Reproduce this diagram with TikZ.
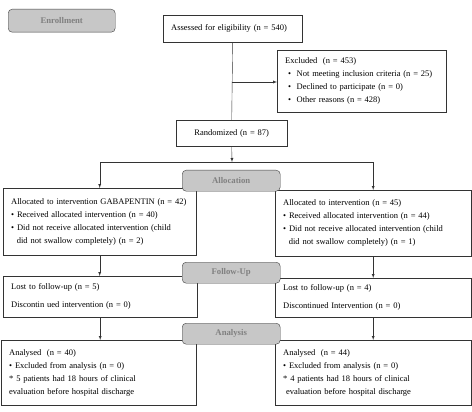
\documentclass[tikz,border=0pt]{standalone}
\usepackage{fontspec}
\setmainfont{Liberation Serif}
\usetikzlibrary{arrows}
\usetikzlibrary{positioning}

\begin{document}
\begin{tikzpicture}[x=1pt, y=-1pt,
box/.style={rectangle, draw=black!80, fill=white, thin, align=left, anchor=north west, inner xsep=8pt, inner ysep=2pt, font=\fontsize{8.5}{13}\selectfont},
stage/.style={rectangle, rounded corners=4pt, draw=black!75, fill=black!22, thin, anchor=north west, minimum width=98pt, minimum height=21pt, text=black!50, font=\fontsize{8.7}{10}\selectfont\bfseries},
]
\useasboundingbox (0,0) rectangle (472,412);
% boxes
\node[box, text width=123pt, minimum height=27pt](assess) at (163,15){Assessed for eligibility (n = 540)};
\node[box, text width=153pt, minimum height=62pt](excl) at (277,50){Excluded\ \ (n = 453)\\
\ \textbullet\ \ Not meeting inclusion criteria (n = 25)\\
\ \textbullet\ \ Declined to participate (n = 0)\\
\ \textbullet\ \ Other reasons (n = 428)};
\node[box, text width=95pt, minimum height=26pt, align=center](rand) at (176,120){Randomized (n = 87)};
\node[box, text width=177pt, minimum height=67pt](allocL) at (3,188){Allocated to intervention GABAPENTIN (n = 42)\\
\textbullet\ Received allocated intervention (n = 40)\\
\textbullet\ Did not receive allocated intervention (child\\
\ \ did not swallow completely) (n = 2)};
\node[box, text width=180pt, minimum height=66pt](allocR) at (275,190){Allocated to intervention (n = 45)\\
\textbullet\ Received allocated intervention (n = 44)\\
\textbullet\ Did not receive allocated intervention (child\\
\ \ did not swallow completely) (n = 1)};
\node[box, text width=178pt, minimum height=41pt](lostL) at (3,276){Lost to follow-up (n = 5)\\[5pt]
Discontin ued intervention (n = 0)};
\node[box, text width=180pt, minimum height=39pt](lostR) at (275,278){Lost to follow-up (n = 4)\\[5pt]
Discontinued Intervention (n = 0)};
\node[box, text width=179pt, minimum height=65pt](analL) at (1,340){Analysed\ \ (n = 40)\\
\textbullet\ Excluded from analysis (n = 0)\\
** 5 patients had 18 hours of clinical\\
evaluation before hospital discharge};
\node[box, text width=180pt, minimum height=65pt](analR) at (275,340){Analysed\ \ (n = 44)\\
\textbullet\ Excluded from analysis (n = 0)\\
** 4 patients had 18 hours of clinical\\
\ evaluation before hospital discharge};
% stages
\node[stage, minimum width=107pt, minimum height=23pt](enroll) at (8,9){Enrollment};
\node[stage](allocation) at (182,170){Allocation};
\node[stage](followup) at (182,262){Follow-Up};
\node[stage](analysis) at (182,323){Analysis};
% connectors
\coordinate (branch) at (232,82);
\coordinate (split) at (232,162);
\draw[black!80] (assess.south) -- (rand.north);
\draw[->, >=latex, black!80] (branch) -- (excl.west |- branch);
\draw[->, >=latex, black!80] (rand.south) -- (split);
\draw[->, >=latex, black!80] (split) -| (allocL.north);
\draw[->, >=latex, black!80] (split) -| (allocR.north);
\draw[->, >=latex, black!80] (allocL.south) -- (allocL.south |- lostL.north);
\draw[->, >=latex, black!80] (allocR.south) -- (allocR.south |- lostR.north);
\draw[->, >=latex, black!80] (lostL.south) -- (lostL.south |- analL.north);
\draw[->, >=latex, black!80] (lostR.south) -- (lostR.south |- analR.north);
\end{tikzpicture}
\end{document}
